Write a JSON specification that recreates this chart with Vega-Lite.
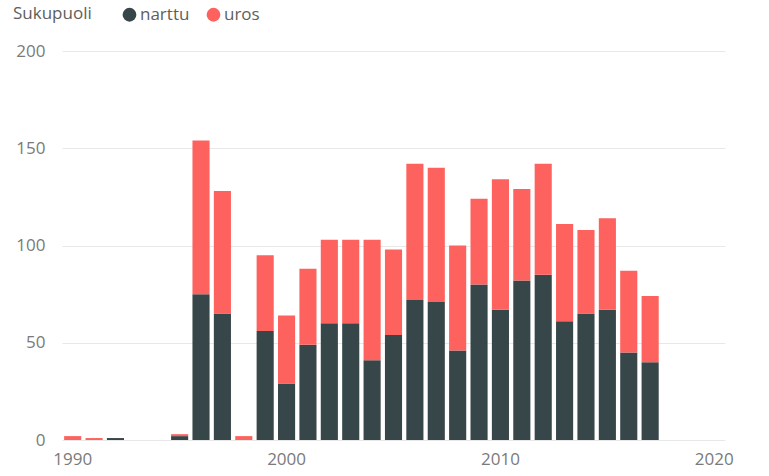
{
  "$schema": "https://vega.github.io/schema/vega-lite/v6.json",
  "autosize": "none",
  "width": 663,
  "height": 389,
  "padding": {"left": 62, "top": 51, "right": 44, "bottom": 36},
  "background": "white",
  "config": {
    "font": "Open Sans",
    "view": {"stroke": null}
  },
  "data": {
    "values": [
      {"vuosi": 1990, "sukupuoli": "narttu", "lkm": 0},
      {"vuosi": 1990, "sukupuoli": "uros", "lkm": 2},
      {"vuosi": 1991, "sukupuoli": "uros", "lkm": 1},
      {"vuosi": 1992, "sukupuoli": "narttu", "lkm": 1},
      {"vuosi": 1995, "sukupuoli": "narttu", "lkm": 2},
      {"vuosi": 1995, "sukupuoli": "uros", "lkm": 1},
      {"vuosi": 1996, "sukupuoli": "narttu", "lkm": 75},
      {"vuosi": 1996, "sukupuoli": "uros", "lkm": 79},
      {"vuosi": 1997, "sukupuoli": "narttu", "lkm": 65},
      {"vuosi": 1997, "sukupuoli": "uros", "lkm": 63},
      {"vuosi": 1998, "sukupuoli": "uros", "lkm": 2},
      {"vuosi": 1999, "sukupuoli": "narttu", "lkm": 56},
      {"vuosi": 1999, "sukupuoli": "uros", "lkm": 39},
      {"vuosi": 2000, "sukupuoli": "narttu", "lkm": 29},
      {"vuosi": 2000, "sukupuoli": "uros", "lkm": 35},
      {"vuosi": 2001, "sukupuoli": "narttu", "lkm": 49},
      {"vuosi": 2001, "sukupuoli": "uros", "lkm": 39},
      {"vuosi": 2002, "sukupuoli": "narttu", "lkm": 60},
      {"vuosi": 2002, "sukupuoli": "uros", "lkm": 43},
      {"vuosi": 2003, "sukupuoli": "narttu", "lkm": 60},
      {"vuosi": 2003, "sukupuoli": "uros", "lkm": 43},
      {"vuosi": 2004, "sukupuoli": "narttu", "lkm": 41},
      {"vuosi": 2004, "sukupuoli": "uros", "lkm": 62},
      {"vuosi": 2005, "sukupuoli": "narttu", "lkm": 54},
      {"vuosi": 2005, "sukupuoli": "uros", "lkm": 44},
      {"vuosi": 2006, "sukupuoli": "narttu", "lkm": 72},
      {"vuosi": 2006, "sukupuoli": "uros", "lkm": 70},
      {"vuosi": 2007, "sukupuoli": "narttu", "lkm": 71},
      {"vuosi": 2007, "sukupuoli": "uros", "lkm": 69},
      {"vuosi": 2008, "sukupuoli": "narttu", "lkm": 46},
      {"vuosi": 2008, "sukupuoli": "uros", "lkm": 54},
      {"vuosi": 2009, "sukupuoli": "narttu", "lkm": 80},
      {"vuosi": 2009, "sukupuoli": "uros", "lkm": 44},
      {"vuosi": 2010, "sukupuoli": "narttu", "lkm": 67},
      {"vuosi": 2010, "sukupuoli": "uros", "lkm": 67},
      {"vuosi": 2011, "sukupuoli": "narttu", "lkm": 82},
      {"vuosi": 2011, "sukupuoli": "uros", "lkm": 47},
      {"vuosi": 2012, "sukupuoli": "narttu", "lkm": 85},
      {"vuosi": 2012, "sukupuoli": "uros", "lkm": 57},
      {"vuosi": 2013, "sukupuoli": "narttu", "lkm": 61},
      {"vuosi": 2013, "sukupuoli": "uros", "lkm": 50},
      {"vuosi": 2014, "sukupuoli": "narttu", "lkm": 65},
      {"vuosi": 2014, "sukupuoli": "uros", "lkm": 43},
      {"vuosi": 2015, "sukupuoli": "narttu", "lkm": 67},
      {"vuosi": 2015, "sukupuoli": "uros", "lkm": 47},
      {"vuosi": 2016, "sukupuoli": "narttu", "lkm": 45},
      {"vuosi": 2016, "sukupuoli": "uros", "lkm": 42},
      {"vuosi": 2017, "sukupuoli": "narttu", "lkm": 40},
      {"vuosi": 2017, "sukupuoli": "uros", "lkm": 34}
    ]
  },
  "mark": {"type": "bar"},
  "encoding": {
    "x": {
      "field": "vuosi",
      "type": "ordinal",
      "scale": {
        "domain": [1990,1991,1992,1993,1994,1995,1996,1997,1998,1999,2000,2001,2002,2003,2004,2005,2006,2007,2008,2009,2010,2011,2012,2013,2014,2015,2016,2017,2018,2019,2020],
        "paddingInner": 0.2,
        "paddingOuter": 0.1
      },
      "axis": {
        "title": null,
        "values": [1990, 2000, 2010, 2020],
        "domain": false,
        "ticks": false,
        "labelAngle": 0,
        "labelFontSize": 17,
        "labelColor": "#7a7a7a",
        "labelPadding": 11,
        "grid": false
      }
    },
    "y": {
      "field": "lkm",
      "type": "quantitative",
      "aggregate": "sum",
      "stack": "zero",
      "scale": {"domain": [0, 200], "nice": false},
      "axis": {
        "title": null,
        "values": [0, 50, 100, 150, 200],
        "domain": false,
        "ticks": false,
        "labelFontSize": 17,
        "labelColor": "#7a7a7a",
        "labelPadding": 17,
        "gridColor": "#e8e8e8",
        "gridWidth": 1
      }
    },
    "color": {
      "field": "sukupuoli",
      "type": "nominal",
      "scale": {"domain": ["narttu", "uros"], "range": ["#374649", "#FD625E"]},
      "legend": {
        "title": "Sukupuoli",
        "orient": "none",
        "direction": "horizontal",
        "legendX": -49,
        "legendY": -45,
        "titleOrient": "left",
        "titleFontSize": 17,
        "titleFontWeight": "normal",
        "titleColor": "#605e5c",
        "titlePadding": 29,
        "labelFontSize": 17,
        "labelColor": "#605e5c",
        "labelOffset": 2,
        "symbolType": "circle",
        "symbolSize": 190,
        "symbolStrokeWidth": 0,
        "columnPadding": 15
      }
    },
    "order": {"field": "sukupuoli", "sort": "ascending"}
  }
}
